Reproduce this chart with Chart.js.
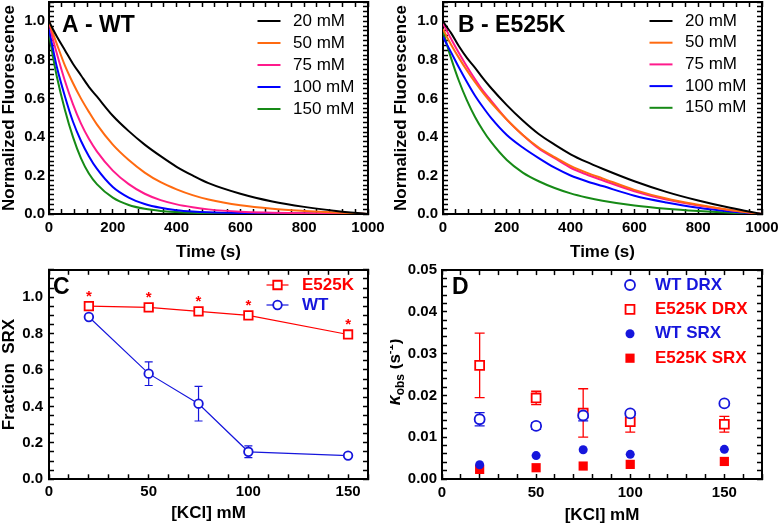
<!DOCTYPE html>
<html>
<head>
<meta charset="utf-8">
<script src="https://cdn.jsdelivr.net/npm/chart.js@4.4.1/dist/chart.umd.min.js"></script>
<style>
  body { margin: 0; background: #fff; }
  #fig { position: relative; width: 780px; height: 526px; }
  #fig canvas { position: absolute; }
</style>
</head>
<body>
<div id="fig">
  <canvas id="cA" width="390" height="262" style="left:0;top:0"></canvas>
  <canvas id="cB" width="390" height="262" style="left:390px;top:0"></canvas>
  <canvas id="cC" width="390" height="264" style="left:0;top:262px"></canvas>
  <canvas id="cD" width="390" height="264" style="left:390px;top:262px"></canvas>
</div>
<script>
const FONT = "'Liberation Sans', Arial, Helvetica, sans-serif";
Chart.defaults.font.family = FONT;
Chart.defaults.color = '#000';

// ── Panels A / B — normalized fluorescence decays ─────────────────────────
const timeS = [0, 12, 25, 50, 75, 100, 125, 150, 200, 250, 300, 350, 400, 450, 500, 600, 700, 800, 900, 1000];

const wt20  = [1.00, 0.96, 0.92, 0.85, 0.78, 0.72, 0.66, 0.61, 0.51, 0.43, 0.36, 0.30, 0.245, 0.20, 0.16, 0.105, 0.065, 0.037, 0.016, 0];
const wt50  = [1.00, 0.94, 0.88, 0.77, 0.68, 0.60, 0.53, 0.465, 0.36, 0.28, 0.215, 0.165, 0.128, 0.098, 0.075, 0.045, 0.027, 0.016, 0.008, 0];
const wt75  = [1.00, 0.91, 0.83, 0.69, 0.57, 0.47, 0.39, 0.325, 0.225, 0.155, 0.105, 0.072, 0.05, 0.035, 0.024, 0.012, 0.007, 0.004, 0.002, 0];
const wt100 = [0.96, 0.86, 0.76, 0.61, 0.48, 0.38, 0.30, 0.235, 0.14, 0.085, 0.052, 0.032, 0.02, 0.013, 0.009, 0.005, 0.003, 0.002, 0.001, 0];
const wt150 = [0.94, 0.82, 0.71, 0.54, 0.40, 0.29, 0.21, 0.155, 0.085, 0.047, 0.027, 0.016, 0.01, 0.006, 0.004, 0.002, 0.001, 0.001, 0, 0];

const ek20  = [1.00, 0.97, 0.94, 0.87, 0.81, 0.76, 0.705, 0.655, 0.565, 0.485, 0.415, 0.36, 0.31, 0.27, 0.235, 0.17, 0.115, 0.07, 0.032, 0];
const ek50  = [0.96, 0.92, 0.88, 0.81, 0.745, 0.685, 0.63, 0.58, 0.49, 0.41, 0.345, 0.295, 0.25, 0.215, 0.185, 0.125, 0.08, 0.048, 0.021, 0];
const ek75  = [0.99, 0.95, 0.91, 0.835, 0.765, 0.70, 0.64, 0.59, 0.49, 0.41, 0.34, 0.29, 0.24, 0.205, 0.175, 0.118, 0.075, 0.044, 0.02, 0];
const ek100 = [0.92, 0.88, 0.84, 0.76, 0.685, 0.615, 0.555, 0.50, 0.41, 0.345, 0.29, 0.24, 0.20, 0.17, 0.145, 0.095, 0.06, 0.032, 0.013, 0];
const ek150 = [0.95, 0.88, 0.81, 0.69, 0.59, 0.505, 0.435, 0.375, 0.28, 0.215, 0.17, 0.135, 0.107, 0.086, 0.069, 0.044, 0.027, 0.015, 0.006, 0];

const concLabels  = ['20 mM', '50 mM', '75 mM', '100 mM', '150 mM'];
const curveColors = ['#000000', '#ff6a10', '#ff1a8c', '#0000ff', '#168a16'];
const timeTicks   = [0, 200, 400, 600, 800, 1000];
const fluorTicks  = [0, 0.2, 0.4, 0.6, 0.8, 1.0];

// ── Panel C — fraction SRX ────────────────────────────────────────────────
const kcl          = [20, 50, 75, 100, 150];
const srxE525K     = [0.951, 0.944, 0.922, 0.90, 0.795];
const srxE525KErr  = [0.008, 0.008, 0.01, 0.01, 0.015];
const srxWT        = [0.891, 0.58, 0.415, 0.151, 0.13];
const srxWTErr     = [0.008, 0.065, 0.095, 0.032, 0.006];
const kclTicks     = [0, 50, 100, 150];
const fracTicks    = [0, 0.2, 0.4, 0.6, 0.8, 1.0];

// ── Panel D — observed rates ──────────────────────────────────────────────
const kWtDRX       = [0.0143, 0.0127, 0.0152, 0.0157, 0.0181];
const kWtDRXErr    = [0.0016, 0.0008, 0.0013, 0.0004, 0.0003];
const kE525KDRX    = [0.0272, 0.0194, 0.0158, 0.0137, 0.0131];
const kE525KDRXErr = [0.0077, 0.0016, 0.0058, 0.0025, 0.0019];
const kWtSRX       = [0.0034, 0.0056, 0.0070, 0.0059, 0.0071];
const kE525KSRX    = [0.0023, 0.0027, 0.0031, 0.0035, 0.0042];
const kobsTicks    = [0, 0.01, 0.02, 0.03, 0.04, 0.05];

const RED  = '#ff0000';
const BLUE = '#1616dc';

// ── Drawing helpers ────────────────────────────────────────────────────────
// legend drawn inside the plot
function drawKey(chart, k) {
  const ctx = chart.ctx;
  ctx.save();
  ctx.font = k.font;
  ctx.textBaseline = 'middle';
  ctx.textAlign = 'left';
  chart.data.datasets.forEach((ds, i) => {
    const y = k.y + i * k.step;
    if (k.line) {
      ctx.strokeStyle = ds.borderColor;
      ctx.lineWidth = k.lineWidth;
      ctx.beginPath();
      ctx.moveTo(k.x - k.line / 2, y);
      ctx.lineTo(k.x + k.line / 2, y);
      ctx.stroke();
    }
    if (k.marker) {
      ctx.fillStyle = ds.pointBackgroundColor;
      ctx.strokeStyle = ds.borderColor;
      ctx.lineWidth = ds.pointBorderWidth || 1;
      Chart.helpers.drawPoint(ctx, {
        pointStyle: ds.pointStyle, radius: ds.pointRadius,
        borderWidth: ds.pointBorderWidth, rotation: 0
      }, k.x, y);
    }
    ctx.fillStyle = k.textColor || ds.borderColor;
    ctx.fillText(ds.label, k.textX, y);
  });
  ctx.restore();
}

// vertical error bars from dataset.errors
function drawErrors(chart, e) {
  const ctx = chart.ctx;
  const x = chart.scales.x, y = chart.scales.y;
  chart.data.datasets.forEach(ds => {
    if (!ds.errors) return;
    ctx.save();
    ctx.strokeStyle = ds.borderColor;
    ctx.lineWidth = e.width;
    ctx.beginPath();
    ds.data.forEach((p, i) => {
      const err = ds.errors[i];
      if (!err) return;
      const px = x.getPixelForValue(p.x);
      const hi = y.getPixelForValue(p.y + err);
      const lo = y.getPixelForValue(p.y - err);
      ctx.moveTo(px, hi); ctx.lineTo(px, lo);
      ctx.moveTo(px - e.cap, hi); ctx.lineTo(px + e.cap, hi);
      ctx.moveTo(px - e.cap, lo); ctx.lineTo(px + e.cap, lo);
    });
    ctx.stroke();
    ctx.restore();
  });
}

// significance asterisks above flagged datasets
function drawStars(chart) {
  const ctx = chart.ctx;
  chart.data.datasets.forEach((ds, di) => {
    if (!ds.stars) return;
    ctx.save();
    ctx.fillStyle = ds.borderColor;
    ctx.font = `bold 15px ${FONT}`;
    ctx.textAlign = 'center';
    ctx.textBaseline = 'alphabetic';
    chart.getDatasetMeta(di).data.forEach(pt => ctx.fillText('*', pt.x, pt.y - 5));
    ctx.restore();
  });
}

// panel letter
function drawTag(chart, t) {
  const ctx = chart.ctx;
  ctx.save();
  ctx.font = `bold 23px ${FONT}`;
  ctx.fillStyle = '#000';
  ctx.textAlign = 'left';
  ctx.textBaseline = 'alphabetic';
  ctx.fillText(t.text, t.x, t.y);
  ctx.restore();
}

// rotated axis title with sub/superscripts
function drawRich(chart, r) {
  const ctx = chart.ctx;
  ctx.save();
  ctx.translate(r.x, r.y);
  ctx.rotate(-Math.PI / 2);
  ctx.fillStyle = '#000';
  ctx.textAlign = 'left';
  ctx.textBaseline = 'alphabetic';
  let w = 0;
  const widths = r.parts.map(p => { ctx.font = p.font; const m = ctx.measureText(p.text).width; w += m; return m; });
  let cx = -w / 2;
  r.parts.forEach((p, i) => { ctx.font = p.font; ctx.fillText(p.text, cx, p.dy || 0); cx += widths[i]; });
  ctx.restore();
}

// one plugin per chart, config kept in the closure
function decor(cfg) {
  const safe = fn => { try { fn(); } catch (err) { console.error(err); } };
  return {
    id: 'decor',
    beforeDatasetsDraw(chart) { if (cfg.err) safe(() => drawErrors(chart, cfg.err)); },
    afterDatasetsDraw(chart) { if (cfg.stars) safe(() => drawStars(chart)); },
    afterDraw(chart) {
      if (cfg.key)  safe(() => drawKey(chart, cfg.key));
      if (cfg.tag)  safe(() => drawTag(chart, cfg.tag));
      if (cfg.rich) safe(() => drawRich(chart, cfg.rich));
    }
  };
}

// ── Scales: frame and inward ticks come from four Chart.js axes ───────────
function pts(xs, ys) { return xs.map((v, i) => ({ x: v, y: ys[i] })); }

function tickRange(min, max, step) {
  const n = Math.round((max - min) / step);
  const out = [];
  for (let i = 0; i <= n; i++) out.push(+(min + i * step).toFixed(6));
  return out;
}

function fixBox(w, h) {
  return s => {
    if (w != null) s.width = w;
    if (h != null) s.height = h;
    s.paddingLeft = s.paddingRight = s.paddingTop = s.paddingBottom = 0;
  };
}

const TICK_IN = -5;

function axes(o) {
  const tickFont  = { size: 15, weight: 'bold' };
  const titleFont = { size: 17, weight: 'bold', lineHeight: 1.1 };
  const xAll = tickRange(o.xMin, o.xMax, o.xMinor);
  const yAll = tickRange(o.yMin, o.yMax, o.yMinor);
  const isIn = (list, v, step) => list.some(t => Math.abs(t - v) < step * 0.01);
  const setTicks = vals => s => { s.ticks = vals.map(v => ({ value: v })); };
  const marks = {
    display: true, drawOnChartArea: false, drawTicks: true,
    tickLength: TICK_IN, tickWidth: 1.5, tickColor: '#000'
  };
  const frameLine = { display: true, width: 2, color: '#000' };
  return {
    x: {
      type: 'linear', position: 'bottom', min: o.xMin, max: o.xMax,
      afterBuildTicks: setTicks(xAll),
      afterFit: fixBox(null, o.xHeight),
      grid: marks, border: frameLine,
      ticks: { padding: o.xPad - TICK_IN, font: tickFont, minRotation: 0, maxRotation: 0, autoSkip: false,
               callback: v => isIn(o.xTicks, v, o.xMinor) ? Number(v).toFixed(o.xDec) : '' },
      title: { display: true, text: o.xTitle, font: titleFont, padding: 0 }
    },
    y: {
      type: 'linear', position: 'left', min: o.yMin, max: o.yMax,
      afterBuildTicks: setTicks(yAll),
      afterFit: fixBox(o.yWidth, null),
      grid: marks, border: frameLine,
      ticks: { padding: o.yPad - TICK_IN, font: tickFont, autoSkip: false,
               callback: v => isIn(o.yTicks, v, o.yMinor) ? Number(v).toFixed(o.yDec) : '' },
      title: { display: !!o.yTitle, text: o.yTitle || '', font: titleFont, padding: { top: o.yTitlePad || 0 } }
    },
    x2: {
      axis: 'x', type: 'linear', position: 'top', display: true, min: o.xMin, max: o.xMax,
      afterBuildTicks: setTicks(xAll),
      afterFit: fixBox(null, 0),
      grid: marks, border: frameLine,
      ticks: { display: false }
    },
    y2: {
      axis: 'y', type: 'linear', position: 'right', display: true, min: o.yMin, max: o.yMax,
      afterBuildTicks: setTicks(yAll),
      afterFit: fixBox(0, null),
      grid: marks, border: frameLine,
      ticks: { display: false }
    }
  };
}

const base = { responsive: false, animation: false, devicePixelRatio: 1, events: [] };
const quiet = () => ({ legend: { display: false }, tooltip: { enabled: false } });

// ── Panels A / B ───────────────────────────────────────────────────────────
function decayChart(id, series, o) {
  return new Chart(document.getElementById(id), {
    type: 'line',
    data: {
      datasets: series.map((vals, i) => ({
        label: concLabels[i],
        data: pts(timeS, vals),
        xAxisID: 'x', yAxisID: 'y',
        borderColor: curveColors[i],
        borderWidth: 2,
        pointRadius: 0,
        cubicInterpolationMode: 'monotone',
        fill: false
      }))
    },
    options: {
      ...base,
      layout: { padding: o.pad },
      plugins: quiet(),
      scales: axes({
        xMin: 0, xMax: 1000, xTicks: timeTicks, xMinor: 40, xDec: 0, xHeight: 48, xPad: 5, xTitle: 'Time (s)',
        yMin: 0, yMax: 1.1, yTicks: fluorTicks, yMinor: 0.025, yDec: 1, yWidth: o.yWidth, yPad: o.yPad,
        yTitle: 'Normalized Fluorescence', yTitlePad: o.yTitlePad
      })
    },
    plugins: [decor({
      key: { x: o.keyX, y: o.keyY, step: o.keyStep, line: 23, lineWidth: 2,
             textX: o.keyTextX, font: `17px ${FONT}`, textColor: '#000' },
      tag: { text: o.tag, x: o.tagX, y: 32 }
    })]
  });
}

decayChart('cA', [wt20, wt50, wt75, wt100, wt150], {
  pad: { left: 0, top: 2, right: 22, bottom: 0 }, yWidth: 49, yPad: 4, yTitlePad: 0,
  keyX: 269, keyY: 21, keyStep: 22, keyTextX: 293, tag: 'A - WT', tagX: 62
});

decayChart('cB', [ek20, ek50, ek75, ek100, ek150], {
  pad: { left: 0, top: 2, right: 18, bottom: 0 }, yWidth: 53, yPad: 5, yTitlePad: 2,
  keyX: 271, keyY: 21, keyStep: 21.7, keyTextX: 295, tag: 'B - E525K', tagX: 68
});

// ── Panel C ────────────────────────────────────────────────────────────────
new Chart(document.getElementById('cC'), {
  type: 'line',
  data: {
    datasets: [
      { label: 'E525K', data: pts(kcl, srxE525K), errors: srxE525KErr, stars: true,
        xAxisID: 'x', yAxisID: 'y',
        borderColor: RED, borderWidth: 1.2, tension: 0,
        pointStyle: 'rect', pointRadius: 6, pointBorderWidth: 1.8,
        pointBackgroundColor: '#fff', pointBorderColor: RED },
      { label: 'WT', data: pts(kcl, srxWT), errors: srxWTErr,
        xAxisID: 'x', yAxisID: 'y',
        borderColor: BLUE, borderWidth: 1.2, tension: 0,
        pointStyle: 'circle', pointRadius: 4.3, pointBorderWidth: 1.8,
        pointBackgroundColor: '#fff', pointBorderColor: BLUE }
    ]
  },
  options: {
    ...base,
    layout: { padding: { left: 0, top: 5.4, right: 22, bottom: 3.4 } },
    plugins: quiet(),
    scales: axes({
      xMin: 0, xMax: 160, xTicks: kclTicks, xMinor: 10, xDec: 0, xHeight: 43.3, xPad: 4, xTitle: '[KCl] mM',
      yMin: 0, yMax: 1.15, yTicks: fracTicks, yMinor: 0.05, yDec: 1, yWidth: 49, yPad: 6,
      yTitle: 'Fraction  SRX'
    })
  },
  plugins: [decor({
    err: { width: 1.2, cap: 4 },
    stars: true,
    key: { x: 277.5, y: 23, step: 20, line: 22, lineWidth: 1.2, marker: true,
           textX: 302, font: `bold 17px ${FONT}` },
    tag: { text: 'C', x: 53, y: 31.5 }
  })]
});

// ── Panel D ────────────────────────────────────────────────────────────────
new Chart(document.getElementById('cD'), {
  type: 'scatter',
  data: {
    datasets: [
      { label: 'WT DRX', data: pts(kcl, kWtDRX), errors: kWtDRXErr, xAxisID: 'x', yAxisID: 'y',
        borderColor: BLUE, pointStyle: 'circle', pointRadius: 5, pointBorderWidth: 1.8,
        pointBackgroundColor: '#fff', pointBorderColor: BLUE },
      { label: 'E525K DRX', data: pts(kcl, kE525KDRX), errors: kE525KDRXErr, xAxisID: 'x', yAxisID: 'y',
        borderColor: RED, pointStyle: 'rect', pointRadius: 6.3, pointBorderWidth: 1.8,
        pointBackgroundColor: '#fff', pointBorderColor: RED },
      { label: 'WT SRX', data: pts(kcl, kWtSRX), xAxisID: 'x', yAxisID: 'y',
        borderColor: BLUE, pointStyle: 'circle', pointRadius: 4.5, pointBorderWidth: 0,
        pointBackgroundColor: BLUE, pointBorderColor: BLUE },
      { label: 'E525K SRX', data: pts(kcl, kE525KSRX), xAxisID: 'x', yAxisID: 'y',
        borderColor: RED, pointStyle: 'rect', pointRadius: 6.5, pointBorderWidth: 0,
        pointBackgroundColor: RED, pointBorderColor: RED }
    ]
  },
  options: {
    ...base,
    layout: { padding: { left: 0, top: 4.7, right: 18, bottom: 1 } },
    plugins: quiet(),
    scales: axes({
      xMin: 0, xMax: 170, xTicks: kclTicks, xMinor: 10, xDec: 0, xHeight: 46, xPad: 5, xTitle: '[KCl] mM',
      yMin: 0, yMax: 0.05, yTicks: kobsTicks, yMinor: 0.002, yDec: 2, yWidth: 52, yPad: 5
    })
  },
  plugins: [decor({
    err: { width: 1.3, cap: 5 },
    key: { x: 240, y: 23, step: 24.4, marker: true, textX: 265, font: `bold 17px ${FONT}` },
    tag: { text: 'D', x: 62, y: 31.5 },
    rich: {
      x: 9.5, y: 110,
      parts: [
        { text: 'k',   font: `italic bold 18px ${FONT}` },
        { text: 'obs', font: `bold 12px ${FONT}`, dy: 4 },
        { text: ' (s', font: `bold 17px ${FONT}` },
        { text: '-1',  font: `bold 11px ${FONT}`, dy: -7 },
        { text: ')',   font: `bold 17px ${FONT}` }
      ]
    }
  })]
});
</script>
</body>
</html>
